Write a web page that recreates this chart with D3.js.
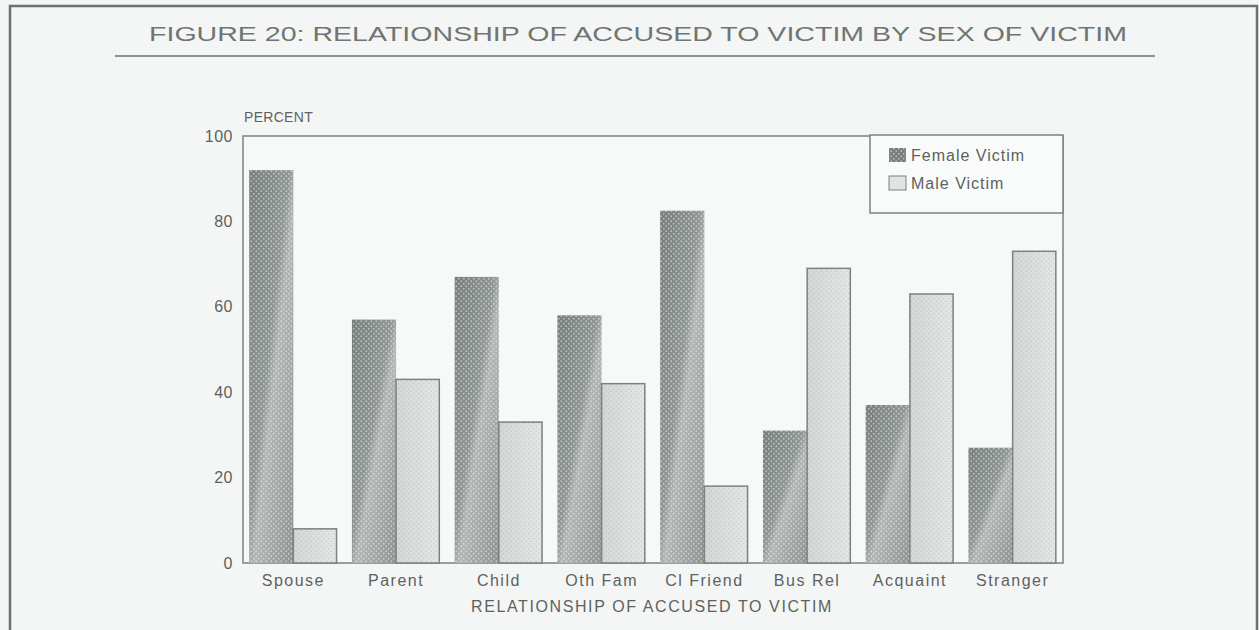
<!DOCTYPE html>
<html><head><meta charset="utf-8">
<script src="https://cdn.jsdelivr.net/npm/d3@7"></script>
<style>
html,body{margin:0;padding:0;background:#f4f6f5;}
svg{display:block;font-family:"Liberation Sans",Arial,sans-serif;}
</style></head>
<body>
<svg id="chart" width="1259" height="630"></svg>
<script>
const categories = ["Spouse","Parent","Child","Oth Fam","Cl Friend","Bus Rel","Acquaint","Stranger"];
const femaleValues = [92, 57, 67, 58, 82.5, 31, 37, 27];
const maleValues = [8, 43, 33, 42, 18, 69, 63, 73];
const seriesNames = ["Female Victim","Male Victim"];
const yTicks = [0,20,40,60,80,100];

const svg = d3.select("#chart");
const W = 1259, H = 630;
const m = {left:243, right:1063, top:136, bottom:563};
const txt = "#5d6260";

const defs = svg.append("defs");
function dotPattern(id, bg, dot, size, r){
  const p = defs.append("pattern").attr("id",id).attr("patternUnits","userSpaceOnUse")
    .attr("width",size).attr("height",size);
  p.append("rect").attr("width",size).attr("height",size).attr("fill",bg);
  p.append("circle").attr("cx",size/4).attr("cy",size/4).attr("r",r).attr("fill",dot);
  p.append("circle").attr("cx",3*size/4).attr("cy",3*size/4).attr("r",r).attr("fill",dot);
  return p;
}
dotPattern("fdots","rgba(0,0,0,0)","rgba(235,240,238,0.55)",5,0.9);
dotPattern("mdots","rgba(0,0,0,0)","rgba(150,155,152,0.35)",5,0.8);
const fg = defs.append("linearGradient").attr("id","fgrad").attr("x1","0").attr("y1","0").attr("x2","1").attr("y2","1");
fg.append("stop").attr("offset","0").attr("stop-color","#767d7a");
fg.append("stop").attr("offset","0.45").attr("stop-color","#8f9592");
fg.append("stop").attr("offset","0.55").attr("stop-color","#b2b7b4");
fg.append("stop").attr("offset","1").attr("stop-color","#8c9290");
const mg = defs.append("linearGradient").attr("id","mgrad").attr("x1","0").attr("y1","0").attr("x2","1").attr("y2","0");
mg.append("stop").attr("offset","0").attr("stop-color","#d3d8d6");
mg.append("stop").attr("offset","1").attr("stop-color","#e3e7e6");

svg.append("rect").attr("width",W).attr("height",H).attr("fill","#f4f6f5");
svg.append("path").attr("d",`M10,${H} V6 H1257 V${H}`).attr("fill","none").attr("stroke","#6d716f").attr("stroke-width",2.5);

svg.append("text").attr("x",638).attr("y",41).attr("text-anchor","middle")
  .attr("font-size",21).attr("fill","#707573").attr("textLength",978).attr("lengthAdjust","spacingAndGlyphs")
  .text("FIGURE 20: RELATIONSHIP OF ACCUSED TO VICTIM BY SEX OF VICTIM");
svg.append("line").attr("x1",115).attr("x2",1155).attr("y1",56).attr("y2",56).attr("stroke","#6d716f").attr("stroke-width",1.5);

const x = d3.scaleBand().domain(categories).range([m.left,m.right]).paddingInner(0.14).paddingOuter(0.06);
const x1 = d3.scaleBand().domain(seriesNames).range([0,x.bandwidth()]).padding(0);
const y = d3.scaleLinear().domain([0,100]).range([m.bottom,m.top]);

svg.append("rect").attr("x",m.left).attr("y",m.top).attr("width",m.right-m.left).attr("height",m.bottom-m.top)
  .attr("fill","#f7f9f8").attr("stroke","#7c817f").attr("stroke-width",1.5);

const data = categories.map((c,i)=>({c, f:femaleValues[i], m:maleValues[i]}));
const g = svg.append("g");
data.forEach(d=>{
  const xf = x(d.c)+x1("Female Victim"), xm = x(d.c)+x1("Male Victim"), bw = x1.bandwidth();
  g.append("rect").attr("x",xf).attr("y",y(d.f)).attr("width",bw).attr("height",y(0)-y(d.f)).attr("fill","url(#fgrad)");
  g.append("rect").attr("x",xf).attr("y",y(d.f)).attr("width",bw).attr("height",y(0)-y(d.f)).attr("fill","url(#fdots)");
  g.append("rect").attr("x",xm).attr("y",y(d.m)).attr("width",bw-1).attr("height",y(0)-y(d.m)).attr("fill","url(#mgrad)")
    .attr("stroke","#7c817f").attr("stroke-width",1.5);
  g.append("rect").attr("x",xm).attr("y",y(d.m)).attr("width",bw-1).attr("height",y(0)-y(d.m)).attr("fill","url(#mdots)");
});

const yAxis = d3.axisLeft(y).tickValues(yTicks).tickSize(0).tickPadding(10);
const ya = svg.append("g").attr("transform",`translate(${m.left},0)`).call(yAxis);
ya.select(".domain").remove();
ya.selectAll("text").attr("font-size",16).attr("fill",txt).attr("font-family","Liberation Sans,Arial,sans-serif").attr("letter-spacing","0.5px");

const xAxis = d3.axisBottom(x).tickSize(0).tickPadding(12);
const xa = svg.append("g").attr("transform",`translate(0,${m.bottom})`).call(xAxis);
xa.select(".domain").remove();
xa.selectAll("text").attr("font-size",16).attr("fill",txt).attr("font-family","Liberation Sans,Arial,sans-serif").attr("letter-spacing","1.5px");

svg.append("text").attr("x",244).attr("y",122).attr("font-size",14).attr("fill",txt).attr("letter-spacing","0.3px").text("PERCENT");
svg.append("text").attr("x",652).attr("y",612).attr("text-anchor","middle").attr("font-size",16).attr("fill",txt)
  .attr("letter-spacing","1.6px").text("RELATIONSHIP OF ACCUSED TO VICTIM");

const lg = svg.append("g");
lg.append("rect").attr("x",870).attr("y",135).attr("width",193).attr("height",78).attr("fill","#f9fbfa").attr("stroke","#7c817f").attr("stroke-width",1.5);
seriesNames.forEach((s,i)=>{
  const yy = 148 + i*28;
  if(i===0){
    lg.append("rect").attr("x",889).attr("y",yy).attr("width",17).attr("height",14).attr("fill","#767d7a");
    lg.append("rect").attr("x",889).attr("y",yy).attr("width",17).attr("height",14).attr("fill","url(#fdots)");
  } else {
    lg.append("rect").attr("x",889).attr("y",yy).attr("width",17).attr("height",14).attr("fill","#dfe3e2").attr("stroke","#7c817f");
  }
  lg.append("text").attr("x",911).attr("y",yy+13).attr("font-size",16).attr("fill",txt).attr("letter-spacing","1px").text(s);
});
</script>
</body></html>
